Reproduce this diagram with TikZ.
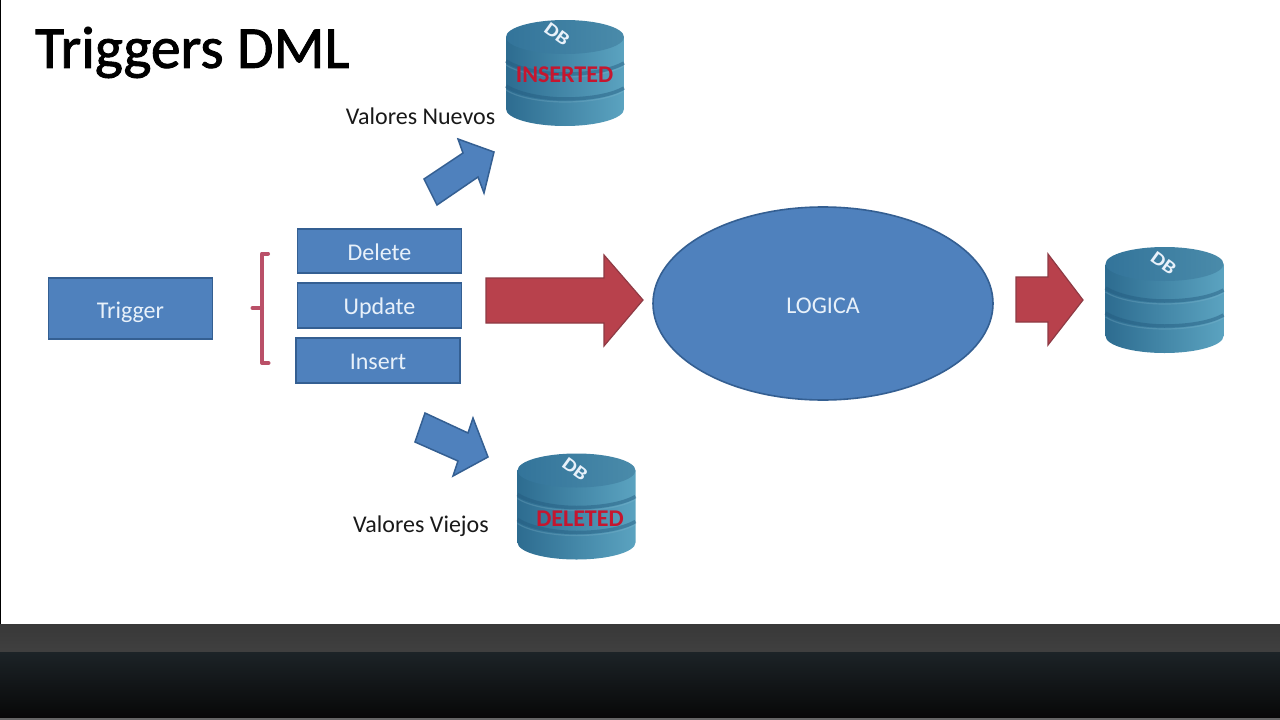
\documentclass[tikz,border=0pt]{standalone}
\usepackage{fontspec}
\usetikzlibrary{shapes.geometric}
\setmainfont{Carlito}
\newfontfamily\titlefont[FakeBold=1.5]{Carlito}
\definecolor{boxblue}{HTML}{4F81BD}
\definecolor{boxedge}{HTML}{345F92}
\definecolor{arrowred}{HTML}{B8414C}
\definecolor{arrowedge}{HTML}{8E3A44}
\definecolor{bracketred}{HTML}{BA5068}
\definecolor{boxtext}{HTML}{E8F1FA}
\definecolor{dbleft}{HTML}{2D6C90}
\definecolor{dbmid}{HTML}{3A7CA0}
\definecolor{dbright}{HTML}{5BA3C0}
\definecolor{dbtopl}{HTML}{33749A}
\definecolor{dbtopr}{HTML}{4A8BAA}
\definecolor{dbgroove}{HTML}{235A7E}
\definecolor{dbred}{HTML}{C5162F}
\definecolor{barlow}{HTML}{1C2327}
\newcommand{\lowered}[2]{\raisebox{-#1pt}[0pt][0pt]{#2}}
\tikzset{
  x=1pt,y=-1pt,
  boxnode/.style={draw=boxedge,line width=1.6pt,fill=boxblue,text=boxtext,inner sep=0pt,font=\fontsize{24}{28}\selectfont},
  plainlabel/.style={text=black!90,inner sep=0pt,font=\fontsize{24}{28}\selectfont},
  bluearrow/.style={draw=boxedge,line width=1.5pt,fill=boxblue,line join=miter},
  redarrow/.style={draw=arrowedge,line width=1.2pt,fill=arrowred,line join=miter},
  dblabel/.style={text=dbred,inner sep=0pt,font=\bfseries\fontsize{24}{28}\selectfont},
  dbmark/.style={text=boxtext,inner sep=0pt,font=\bfseries\fontsize{22}{24}\selectfont,rotate=-36,yscale=.85},
}
% #1 x of left side, #2 y of top, #3 node name, #4 position of the DB mark
\newcommand{\dbstack}[4]{%
  \begin{scope}[shift={(#1,#2)}]
    \shade[left color=dbleft,middle color=dbmid,right color=dbright]
      (0,17) -- (0,89) .. controls (0,98.4) and (26.4,106) .. (59,106)
      .. controls (91.6,106) and (118,98.4) .. (118,89) -- (118,17) -- cycle;
    \foreach \yy in {43,68}{
      \draw[dbgroove,line width=3.5pt,opacity=.45] (0,\yy-2) .. controls (14,\yy+7) and (40,\yy+11) .. (59,\yy+11)
        .. controls (80,\yy+11) and (104,\yy+8) .. (118,\yy);
      \draw[dbright!70!white,line width=1.2pt,opacity=.25] (0,\yy+2) .. controls (14,\yy+11) and (40,\yy+14) .. (59,\yy+14)
        .. controls (80,\yy+14) and (104,\yy+11) .. (118,\yy+3);
    }
    \shade[left color=dbtopl,right color=dbtopr]
      (0,17) .. controls (0,7.6) and (26.4,0) .. (59,0)
      .. controls (91.6,0) and (118,7.6) .. (118,17)
      .. controls (118,26.4) and (91.6,34) .. (59,34)
      .. controls (26.4,34) and (0,26.4) .. (0,17) -- cycle;
    \node[dbmark] (#3) at (#4) {DB};
  \end{scope}}
\begin{document}
\begin{tikzpicture}
\useasboundingbox (0,0) rectangle (1280,720);
\fill[white] (0,0) rectangle (1280,720);
\fill[black] (0,0) rectangle (1,624);
% bottom bar
\shade[top color=black!78,bottom color=black!75] (0,624) rectangle (1280,652);
\shade[top color=barlow,bottom color=black!97] (0,652) rectangle (1280,718);
\fill[black!60] (0,718) rectangle (1280,720);
% title
\node[anchor=west,inner sep=0pt,text=black,font=\titlefont\fontsize{59.5}{70}\selectfont] (title) at (35,52.5) {Triggers DML};
% boxes
\node[boxnode,minimum width=164pt,minimum height=61pt] (trigger) at (130.5,308.5) {\lowered{9.5}{Trigger}};
\node[boxnode,minimum width=164pt,minimum height=44pt] (delete) at (379.5,251) {\lowered{9}{Delete}};
\node[boxnode,minimum width=164pt,minimum height=45pt] (update) at (379.5,305.5) {\lowered{8.5}{Update}};
\node[boxnode,minimum width=164pt,minimum height=45pt] (insert) at (378,360.5) {\lowered{8.5}{Insert}};
\node[boxnode,ellipse,minimum width=340pt,minimum height=193pt] (logica) at (823,303.5) {\lowered{10}{LOGICA}};
% bracket
\draw[bracketred,line width=4pt,line join=round,line cap=round] (268,253.5) -- (262,253.5) -- (262,363) -- (268.5,363);
\draw[bracketred,line width=4pt,line cap=round] (252.5,308) -- (262,308);
% block arrows
\draw[redarrow] (486,278) -- (604,278) -- (604,255) -- (643,300) -- (604,346) -- (604,323) -- (486,323) -- cycle;
\draw[redarrow] (1016,277) -- (1048,277) -- (1048,254) -- (1083,300) -- (1048,345) -- (1048,322) -- (1016,322) -- cycle;
\draw[bluearrow] (424,179) -- (463,153) -- (458,139) -- (494,152) -- (484,193) -- (478,177) -- (437,205) -- cycle;
\draw[bluearrow] (425,413) -- (468,433) -- (473,418) -- (488,457) -- (453,476) -- (458,461) -- (415,442) -- cycle;
% databases
\dbstack{506}{20}{dbins}{51,14}
\dbstack{517.5}{453.5}{dbdel}{57.5,15.5}
\dbstack{1105.5}{247}{dbout}{58,16}
\node[dblabel] (inserted) at (564.5,75) {INSERTED};
\node[dblabel] (deleted) at (580,519) {DELETED};
% labels
\node[plainlabel] (nuevos) at (420.5,116.5) {Valores Nuevos};
\node[plainlabel] (viejos) at (421,526.5) {Valores Viejos};
\end{tikzpicture}
\end{document}
